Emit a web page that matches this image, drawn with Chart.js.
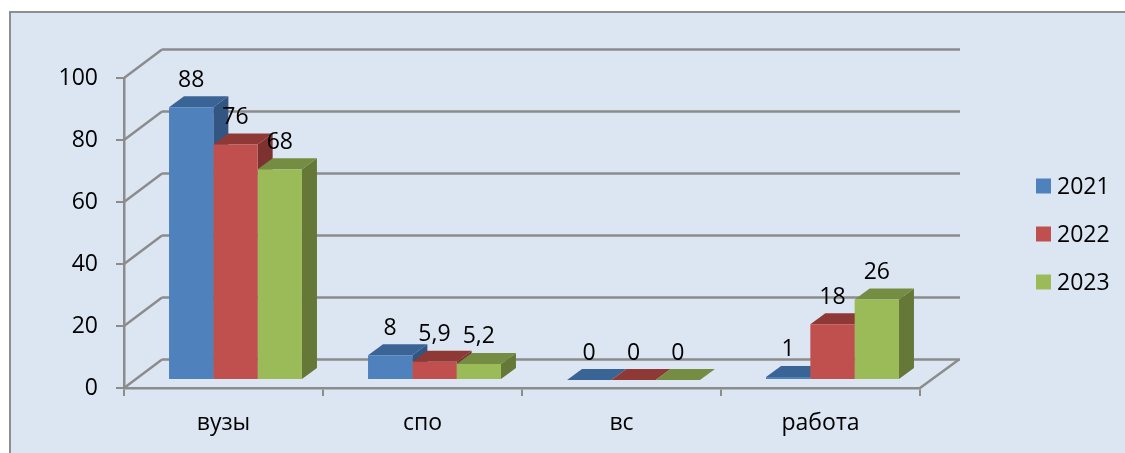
<!DOCTYPE html>
<html>
<head>
<meta charset="utf-8">
<title>chart</title>
<script src="https://cdn.jsdelivr.net/npm/chart.js@4"></script>
<style>
  html, body { margin: 0; padding: 0; background: #fff; overflow: hidden; }
  canvas { display: block; }
</style>
</head>
<body>
<canvas id="chart" width="1125" height="453"></canvas>
<script>
const categories = ["вузы", "спо", "вс", "работа"];
const years = ["2021", "2022", "2023"];
const values2021 = [88, 8, 0, 1];
const values2022 = [76, 5.9, 0, 18];
const values2023 = [68, 5.2, 0, 26];
const yTicks = [0, 20, 40, 60, 80, 100];

const frontColors = ["#4f81bd", "#c0504d", "#9bbb59"];
const topColors = ["#3b6496", "#8f3937", "#748d42"];
const sideColors = ["#325581", "#7d3230", "#657838"];

const FONT = '"Open Sans", sans-serif';
const GRID = "#8c8c8c";
// how far the back wall sits from the front axes
const wallX = 38, wallY = -28.5;
// how far the bars stand in from the front of the floor
const barX = 12, barY = -8;
// depth of a bar
const depthX = 15, depthY = -11;

function line(ctx, x1, y1, x2, y2) {
  ctx.beginPath();
  ctx.moveTo(x1, y1);
  ctx.lineTo(x2, y2);
  ctx.stroke();
}

function poly(ctx, pts, color) {
  ctx.fillStyle = color;
  ctx.beginPath();
  pts.forEach((p, i) => (i ? ctx.lineTo(p[0], p[1]) : ctx.moveTo(p[0], p[1])));
  ctx.closePath();
  ctx.fill();
}

const box3d = {
  id: "box3d",
  // panel behind everything
  beforeDraw(chart) {
    const ctx = chart.ctx;
    ctx.save();
    ctx.fillStyle = "#dce6f2";
    ctx.fillRect(10, 12, 1115, 441);
    ctx.strokeStyle = "#8e8e8e";
    ctx.lineWidth = 2;
    line(ctx, 9, 12, 1125, 12);
    line(ctx, 10, 12, 10, 453);
    ctx.restore();
  },
  // walls, then top and side faces; the library draws the fronts over them
  beforeDatasetsDraw(chart) {
    const ctx = chart.ctx;
    const { left, right, bottom } = chart.chartArea;
    const y = chart.scales.y;
    ctx.save();
    ctx.strokeStyle = GRID;
    ctx.lineWidth = 2.5;
    yTicks.forEach((t) => {
      const py = y.getPixelForValue(t);
      line(ctx, left, py, left + wallX, py + wallY);
      line(ctx, left + wallX, py + wallY, right + wallX + 2, py + wallY);
    });
    line(ctx, right, bottom, right + wallX + 1, bottom + wallY);
    ctx.restore();
    ctx.save();
    ctx.translate(barX, barY);
    chart.data.datasets.forEach((ds, i) => {
      chart.getDatasetMeta(i).data.forEach((bar) => {
        const { x, y, base, width } = bar.getProps(["x", "y", "base", "width"], true);
        const l = x - width / 2, r = x + width / 2;
        poly(ctx, [[r, y], [r + depthX, y + depthY], [r + depthX, base + depthY], [r, base]], sideColors[i]);
        poly(ctx, [[l, y], [l + depthX, y + depthY], [r + depthX, y + depthY], [r, y]], topColors[i]);
      });
    });
  },
  afterDatasetsDraw(chart) {
    const ctx = chart.ctx;
    ctx.font = "23px " + FONT;
    ctx.fillStyle = "#000";
    ctx.textAlign = "center";
    ctx.textBaseline = "middle";
    chart.data.datasets.forEach((ds, i) => {
      chart.getDatasetMeta(i).data.forEach((bar, j) => {
        const text = String(ds.data[j]).replace(".", ",");
        ctx.fillText(text, bar.x, bar.y - 27);
      });
    });
    ctx.restore();
  },
  afterDraw(chart) {
    const ctx = chart.ctx;
    ctx.save();
    ctx.font = "23px " + FONT;
    ctx.textAlign = "left";
    ctx.textBaseline = "middle";
    years.forEach((year, i) => {
      const cy = 186 + i * 48;
      ctx.fillStyle = frontColors[i];
      ctx.fillRect(1036, cy - 7.5, 15, 15);
      ctx.fillStyle = "#000";
      ctx.fillText(year, 1057, cy + 1);
    });
    ctx.restore();
  },
};

const seriesValues = [values2021, values2022, values2023];

new Chart(document.getElementById("chart"), {
  type: "bar",
  data: {
    labels: categories,
    datasets: years.map((year, i) => ({
      label: year,
      data: seriesValues[i],
      backgroundColor: frontColors[i],
      clip: false,
    })),
  },
  options: {
    responsive: false,
    animation: false,
    layout: { padding: { top: 78, right: 205, bottom: 0, left: 0 } },
    datasets: { bar: { categoryPercentage: 0.668, barPercentage: 1 } },
    plugins: { legend: { display: false }, tooltip: { enabled: false } },
    scales: {
      x: {
        afterFit: (s) => { s.height = 65; },
        grid: { drawOnChartArea: false, color: GRID, tickColor: GRID, tickLength: 8, lineWidth: 2 },
        border: { color: GRID, width: 2.5 },
        ticks: { color: "#000", padding: 14, font: { size: 23, family: FONT } },
      },
      y: {
        min: 0,
        max: 100,
        afterFit: (s) => { s.width = 124; },
        afterBuildTicks: (s) => { s.ticks = yTicks.map((v) => ({ value: v })); },
        grid: { drawOnChartArea: false, color: GRID, tickColor: GRID, tickLength: 8, lineWidth: 2 },
        border: { color: GRID, width: 2.5 },
        ticks: { color: "#000", padding: 18, font: { size: 23, family: FONT } },
      },
    },
  },
  plugins: [box3d],
});
</script>
</body>
</html>
